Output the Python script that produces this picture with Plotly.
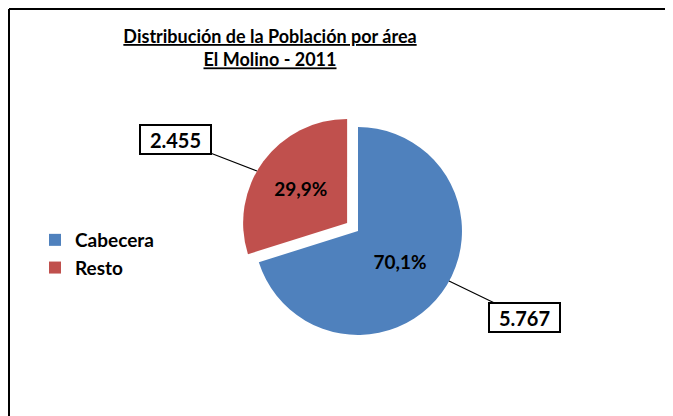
import plotly.graph_objects as go

W, H = 673, 416
OFS = 8  # margen del body de la pagina html

areas = ["Cabecera", "Resto"]
poblacion = [5767, 2455]
colores = ["#4F81BD", "#C0504D"]
titulo = ["Distribución de la Población por área", "El Molino - 2011"]


def px(x):
    return (x - OFS) / W


def py(y):
    return 1 - (y - OFS) / H


def miles(v):
    return "{:,}".format(v).replace(",", ".")


pie = go.Pie(labels=areas, values=poblacion, sort=False, direction="clockwise",
             rotation=0, pull=[0, 0.13],
             marker=dict(colors=colores, line=dict(width=0)),
             texttemplate="<b>%{percent:.1%}</b>", textposition="inside",
             insidetextorientation="horizontal",
             textfont=dict(family="Lato", size=19, color="black"),
             domain=dict(x=[px(240.5), px(475.5)], y=[py(348.5), py(113.5)]),
             hoverinfo="label+value+percent")

fig = go.Figure(data=[pie])

# etiquetas con valor absoluto en recuadro
etiquetas = [
    dict(tip=(449, 281), off=(75.5, 36.5)),   # Cabecera
    dict(tip=(257, 171), off=(-81.5, -31.5)),  # Resto
]
for val, e in zip(poblacion, etiquetas):
    fig.add_annotation(x=px(e["tip"][0]), y=py(e["tip"][1]), xref="paper", yref="paper",
                       text="<b>%s</b>" % miles(val), showarrow=True, arrowhead=0,
                       arrowwidth=1.2, arrowcolor="black",
                       ax=e["off"][0], ay=e["off"][1], width=63, height=21,
                       font=dict(family="Lato", size=20, color="black"),
                       bgcolor="white", bordercolor="black", borderwidth=2, borderpad=3)

# marco del grafico
fig.add_shape(type="line", xref="paper", yref="paper", x0=px(9), x1=px(9), y0=py(9), y1=-0.02,
              line=dict(color="black", width=2))
fig.add_shape(type="line", xref="paper", yref="paper", x0=px(9), x1=1.02, y0=py(9), y1=py(9),
              line=dict(color="black", width=2))

fig.update_layout(
    width=W, height=H, margin=dict(l=0, r=0, t=0, b=0),
    paper_bgcolor="white", plot_bgcolor="white",
    separators=",.",
    title=dict(text="<b><u>%s</u></b><br><b><u>%s</u></b>" % tuple(titulo),
               x=px(270), xanchor="center", y=py(43), yanchor="top",
               font=dict(family="Lato", size=18, color="black")),
    showlegend=True,
    legend=dict(x=px(35), xanchor="left", y=py(221), yanchor="top",
                font=dict(family="Lato", size=19, color="black", weight="bold"),
                bgcolor="rgba(0,0,0,0)", tracegroupgap=0),
)

fig.write_html("out.html")
